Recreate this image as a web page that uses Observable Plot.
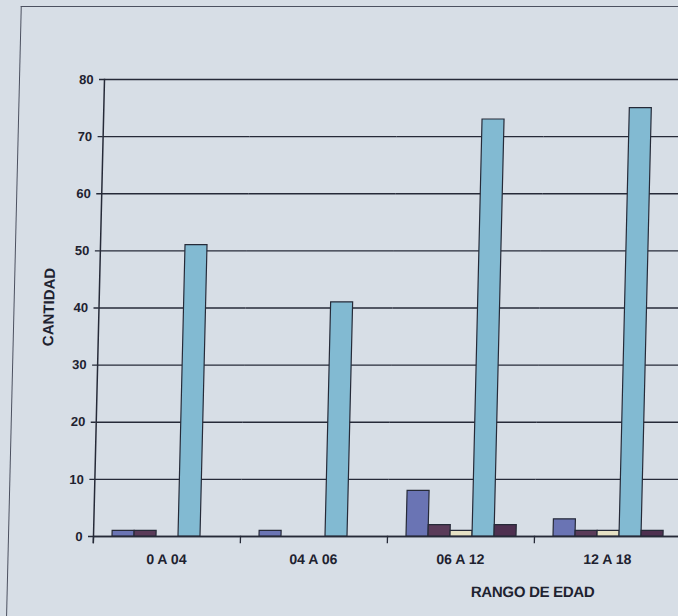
<!DOCTYPE html>
<html>
<head>
<meta charset="utf-8">
<script src="https://cdn.jsdelivr.net/npm/d3@7"></script>
<script src="https://cdn.jsdelivr.net/npm/@observablehq/plot@0.6"></script>
<style>
  html, body { margin: 0; padding: 0; overflow: hidden; }
  body { width: 678px; height: 616px; background: #d7dee6; font-family: "Liberation Sans", Arial, sans-serif; }
  #wrap { position: absolute; left: 0; top: 0; width: 681px; height: 616px;
          transform: skewX(-1.38deg); transform-origin: 0 536px; }
  #outer { position: absolute; left: 8px; top: 6px; width: 720px; height: 720px;
           border-left: 1.5px solid #4c5160; border-top: 1.5px solid #4c5160; }
  #chart { position: absolute; left: 0; top: 0; }
  .lbl { position: absolute; font-weight: bold; color: #1e2230; white-space: nowrap; }
  #ylab { left: 43px; top: 307px; font-size: 15px; transform: translate(-50%, -50%) rotate(-90deg); }
  #xlab { left: 534px; top: 591px; font-size: 15px; transform: translate(-50%, -50%); letter-spacing: -0.3px; }
</style>
</head>
<body>
<div id="wrap">
  <div id="outer"></div>
  <div id="chart"></div>
  <div class="lbl" id="ylab">CANTIDAD</div>
  <div class="lbl" id="xlab">RANGO DE EDAD</div>
</div>
<script>
const groups = ["0 A 04", "04 A 06", "06 A 12", "12 A 18"];
const seriesNames = ["Serie 1", "Serie 2", "Serie 3", "Serie 4", "Serie 5"];
const serie1 = [1, 1, 8, 3];
const serie2 = [1, 0, 2, 1];
const serie3 = [0, 0, 1, 1];
const serie4 = [51, 41, 73, 75];
const serie5 = [0, 0, 2, 1];
const yTicks = [0, 10, 20, 30, 40, 50, 60, 70, 80];
const colors = ["#6a74b4", "#5a3b59", "#e6e1c4", "#82bad2", "#4e3050"];

const allSeries = [serie1, serie2, serie3, serie4, serie5];
const data = [];
groups.forEach((g, gi) => {
  seriesNames.forEach((s, si) => {
    data.push({group: g, series: s, value: allSeries[si][gi]});
  });
});

const ink = "#262a38";

const chart = Plot.plot({
  width: 681,
  height: 616,
  marginLeft: 92,
  marginRight: 0,
  marginTop: 79,
  marginBottom: 80,
  style: {background: "transparent", fontFamily: "'Liberation Sans', Arial, sans-serif", color: "#1e2230"},
  fx: {domain: groups, paddingInner: 0, paddingOuter: 0, label: null, axis: null},
  x: {domain: seriesNames, paddingInner: 0, paddingOuter: 0.7, axis: null},
  y: {domain: [0, 80], axis: null},
  color: {domain: seriesNames, range: colors},
  marks: [
    Plot.gridY(yTicks, {stroke: ink, strokeOpacity: 1, strokeWidth: 1.3}),
    Plot.frame({anchor: "left", insetTop: 457, insetBottom: -6, stroke: ink, strokeWidth: 1.3}),
    Plot.frame({anchor: "left", facet: "super", insetBottom: -6, stroke: ink, strokeWidth: 1.5}),
    Plot.barY(data, {fx: "group", x: "series", y: "value", fill: "series", stroke: ink, strokeWidth: 1.2}),
    Plot.ruleY([0], {stroke: ink, strokeWidth: 1.5}),
    Plot.axisY(yTicks, {anchor: "left", tickSize: 5, tickPadding: 6, fontSize: 13, fontWeight: "bold", label: null, stroke: ink, strokeWidth: 1.3}),
    Plot.axisFx({anchor: "bottom", tickSize: 0, tickPadding: 18, fontSize: 14, fontWeight: "bold", label: null})
  ]
});
document.getElementById("chart").appendChild(chart);
</script>
</body>
</html>
